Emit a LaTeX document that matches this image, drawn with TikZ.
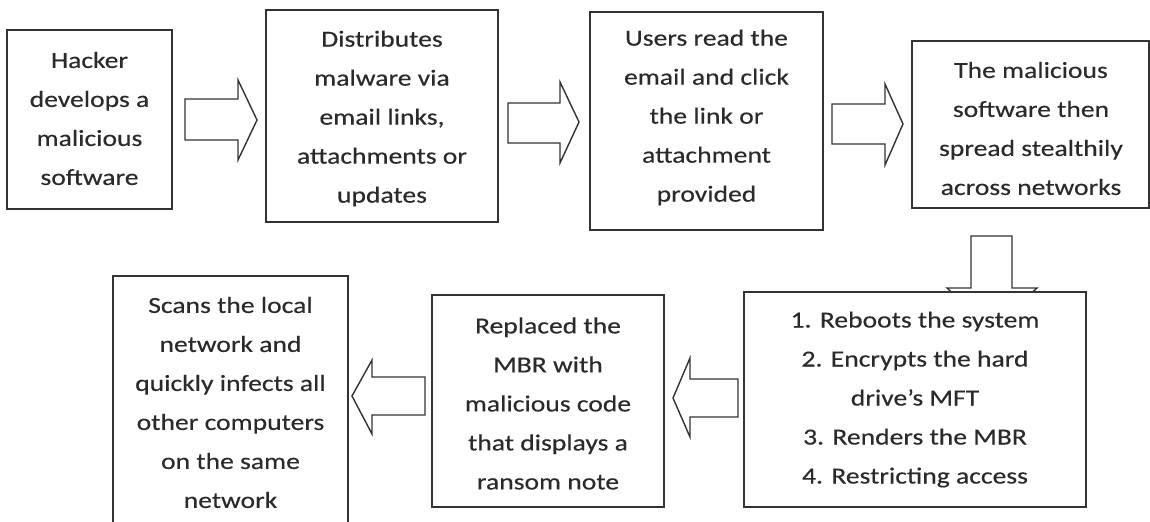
\documentclass[tikz,border=0pt]{standalone}
\usepackage{fontspec}
\setmainfont{Carlito}[FakeStretch=1.2, FakeBold=0.3]
\usetikzlibrary{fit}
\definecolor{ink}{HTML}{333333}
\definecolor{txtink}{HTML}{2A2A2A}
\tikzset{
  box/.style={draw=ink, line width=0.75pt, fill=white, inner sep=0pt},
  txt/.style={text=txtink, align=center, inner sep=0pt, font=\fontsize{11.5}{19.5}\selectfont},
  blockarrow/.style={draw=ink, line width=0.7pt, fill=white, line join=miter}
}
\begin{document}
\begin{tikzpicture}[x=0.5pt, y=-0.5pt]
\useasboundingbox (0,0) rectangle (1150,521);
% block arrows
\draw[blockarrow] (185,99) -- (238,99) -- (238,80) -- (257,120) -- (238,160) -- (238,140) -- (185,140) -- cycle;
\draw[blockarrow] (508,103) -- (560,103) -- (560,82) -- (579,122) -- (560,163) -- (560,143) -- (508,143) -- cycle;
\draw[blockarrow] (832,104) -- (885,104) -- (885,84) -- (903,124) -- (885,165) -- (885,144) -- (832,144) -- cycle;
\draw[blockarrow] (971,236) -- (1012,236) -- (1012,288) -- (1037,288) -- (991.5,330) -- (947,288) -- (971,288) -- cycle;
\draw[blockarrow] (738,379) -- (738,417) -- (690,417) -- (690,437) -- (673,398) -- (690,358) -- (690,379) -- cycle;
\draw[blockarrow] (425,377) -- (425,415) -- (372,415) -- (372,434) -- (352,396) -- (372,360) -- (372,377) -- cycle;
% boxes
\node[box, fit={(7,30) (172,209)}] (b1) {};
\node[box, fit={(266,10) (498,222)}] (b2) {};
\node[box, fit={(590,12) (823,230)}] (b3) {};
\node[box, fit={(912,41) (1149,208)}] (b4) {};
\node[box, fit={(744,292) (1086,507)}] (b5) {};
\node[box, fit={(432,295) (664,507)}] (b6) {};
\node[box, fit={(113,276) (348,530)}] (b7) {};
% texts
\node[txt] (t1) at (89.5,118.5) {Hacker\\develops a\\malicious\\software};
\node[txt] (t2) at (382,118.5) {Distributes\\malware via\\email links,\\attachments or\\updates};
\node[txt] (t3) at (706.5,117.5) {Users read the\\email and click\\the link or\\attachment\\provided};
\node[txt] (t4) at (1031,128.5) {The malicious\\software then\\spread stealthily\\across networks};
\node[txt] (t5) at (915,399.5) {1. Reboots the system\\2. Encrypts the hard\\drive’s MFT\\3. Renders the MBR\\4. Restricting access};
\node[txt] (t6) at (548,403.5) {Replaced the\\MBR with\\malicious code\\that displays a\\ransom note};
\node[txt] (t7) at (230.5,402.5) {Scans the local\\network and\\quickly infects all\\other computers\\on the same\\network};
\end{tikzpicture}
\end{document}
